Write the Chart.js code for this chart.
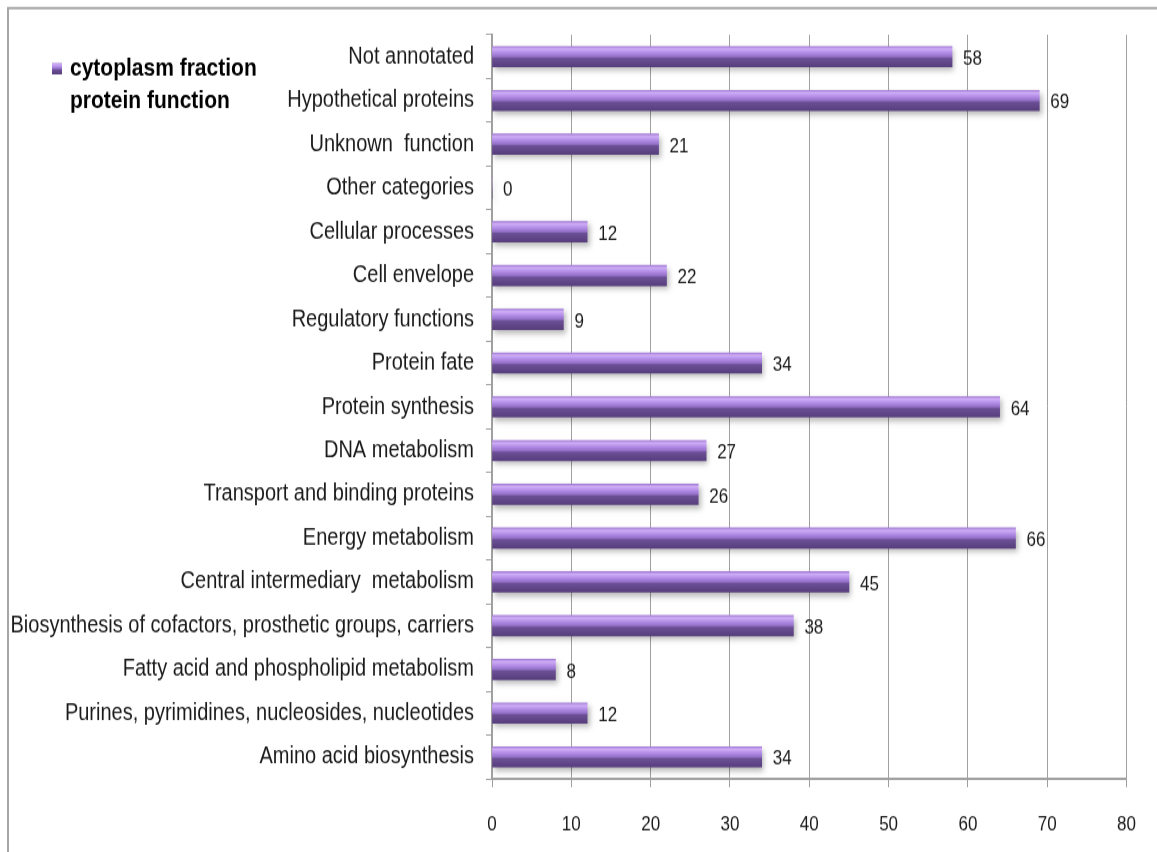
<!DOCTYPE html>
<html>
<head>
<meta charset="utf-8">
<script src="https://cdn.jsdelivr.net/npm/chart.js@4.4.1/dist/chart.umd.min.js"></script>
<style>
  html, body { margin: 0; padding: 0; background: #ffffff; overflow: hidden; }
  #wrap { position: relative; width: 1157px; height: 852px; overflow: hidden; }
  #stretch { position: absolute; left: 0; top: 0; width: 1157px; height: 710px;
             transform: scaleY(1.2); transform-origin: 0 0; }
</style>
</head>
<body>
<div id="wrap"><div id="stretch"><canvas id="c" width="1157" height="710"></canvas></div></div>
<script>
const categories = [
  "Not annotated",
  "Hypothetical proteins",
  "Unknown  function",
  "Other categories",
  "Cellular processes",
  "Cell envelope",
  "Regulatory functions",
  "Protein fate",
  "Protein synthesis",
  "DNA metabolism",
  "Transport and binding proteins",
  "Energy metabolism",
  "Central intermediary  metabolism",
  "Biosynthesis of cofactors, prosthetic groups, carriers",
  "Fatty acid and phospholipid metabolism",
  "Purines, pyrimidines, nucleosides, nucleotides",
  "Amino acid biosynthesis"
];
const proteinCounts = [58, 69, 21, 0, 12, 22, 9, 34, 64, 27, 26, 66, 45, 38, 8, 12, 34];
const seriesName = ["cytoplasm fraction", "protein function"];
const xTicks = [0, 10, 20, 30, 40, 50, 60, 70, 80];

const FONT = '"Liberation Sans", Arial, sans-serif';

function barGradient(ctx, y0, y1) {
  const g = ctx.createLinearGradient(0, y0, 0, y1);
  g.addColorStop(0.00, '#a27bd4');
  g.addColorStop(0.12, '#d0aef7');
  g.addColorStop(0.30, '#b48ee8');
  g.addColorStop(0.50, '#9470c8');
  g.addColorStop(0.58, '#6c5096');
  g.addColorStop(1.00, '#573e7c');
  return g;
}

const framePlugin = {
  id: 'frame',
  beforeDraw(chart) {
    const ctx = chart.ctx;
    ctx.save();
    ctx.fillStyle = '#ffffff';
    ctx.fillRect(0, 0, chart.width, chart.height);
    ctx.strokeStyle = '#a6a6a6';
    ctx.lineWidth = 2;
    ctx.beginPath();
    ctx.moveTo(8, chart.height);
    ctx.lineTo(8, 6.7);
    ctx.lineTo(chart.width, 6.7);
    ctx.stroke();
    ctx.restore();
  }
};

const shadowPlugin = {
  id: 'barShadow',
  beforeDatasetsDraw(chart) {
    const ctx = chart.ctx;
    ctx.save();
    ctx.shadowColor = 'rgba(0,0,0,0.28)';
    ctx.shadowBlur = 5;
    ctx.shadowOffsetX = 2;
    ctx.shadowOffsetY = 3;
  },
  afterDatasetsDraw(chart) {
    chart.ctx.restore();
  }
};

const valueLabelPlugin = {
  id: 'valueLabels',
  afterDatasetsDraw(chart) {
    const ctx = chart.ctx;
    const meta = chart.getDatasetMeta(0);
    ctx.save();
    ctx.font = '17px ' + FONT;
    ctx.fillStyle = '#1a1a1a';
    ctx.textAlign = 'left';
    ctx.textBaseline = 'middle';
    meta.data.forEach((bar, i) => {
      ctx.fillText(String(chart.data.datasets[0].data[i]), bar.x + 11, bar.y + 2);
    });
    ctx.restore();
  }
};

const legendPlugin = {
  id: 'customLegend',
  afterDraw(chart) {
    const ctx = chart.ctx;
    ctx.save();
    ctx.fillStyle = barGradient(ctx, 52.5, 62);
    ctx.fillRect(52, 52.5, 10, 9.5);
    ctx.font = 'bold 21px ' + FONT;
    ctx.fillStyle = '#000000';
    ctx.textAlign = 'left';
    ctx.textBaseline = 'alphabetic';
    ctx.fillText(seriesName[0], 70, 63);
    ctx.fillText(seriesName[1], 70, 90);
    ctx.restore();
  }
};

new Chart(document.getElementById('c'), {
  type: 'bar',
  data: {
    labels: categories,
    datasets: [{
      label: seriesName.join(' '),
      data: proteinCounts,
      backgroundColor(context) {
        const chart = context.chart;
        const ys = chart.scales && chart.scales.y;
        if (!ys || context.dataIndex === undefined) return '#8a66c0';
        const yc = ys.getPixelForValue(context.dataIndex);
        if (!Number.isFinite(yc)) return '#8a66c0';
        return barGradient(chart.ctx, yc - 8.5, yc + 8.5);
      },
      borderWidth: 0,
      barThickness: 17
    }]
  },
  options: {
    indexAxis: 'y',
    responsive: false,
    animation: false,
    devicePixelRatio: 1,
    layout: { padding: { top: 29, right: 29, left: 0, bottom: 0 } },
    plugins: {
      legend: { display: false },
      tooltip: { enabled: false }
    },
    scales: {
      x: {
        type: 'linear',
        min: 0,
        max: 80,
        afterBuildTicks(scale) { scale.ticks = xTicks.map(v => ({ value: v })); },
        afterFit(scale) { scale.height = 61; },
        grid: {
          color: '#a0a0a0',
          lineWidth: 1,
          drawTicks: true,
          tickLength: 7,
          tickColor: '#a0a0a0'
        },
        border: { display: true, color: '#a0a0a0', width: 2 },
        ticks: {
          font: { family: FONT, size: 17 },
          color: '#1a1a1a',
          padding: 21,
          maxRotation: 0
        }
      },
      y: {
        type: 'category',
        afterFit(scale) { scale.width = 492; },
        grid: {
          offset: true,
          drawOnChartArea: false,
          drawTicks: true,
          tickLength: 6,
          tickColor: '#a0a0a0'
        },
        border: { display: true, color: '#a0a0a0', width: 2 },
        ticks: {
          font: { family: FONT, size: 20 },
          color: '#1a1a1a',
          padding: 12,
          autoSkip: false
        }
      }
    }
  },
  plugins: [framePlugin, shadowPlugin, valueLabelPlugin, legendPlugin]
});
</script>
</body>
</html>
